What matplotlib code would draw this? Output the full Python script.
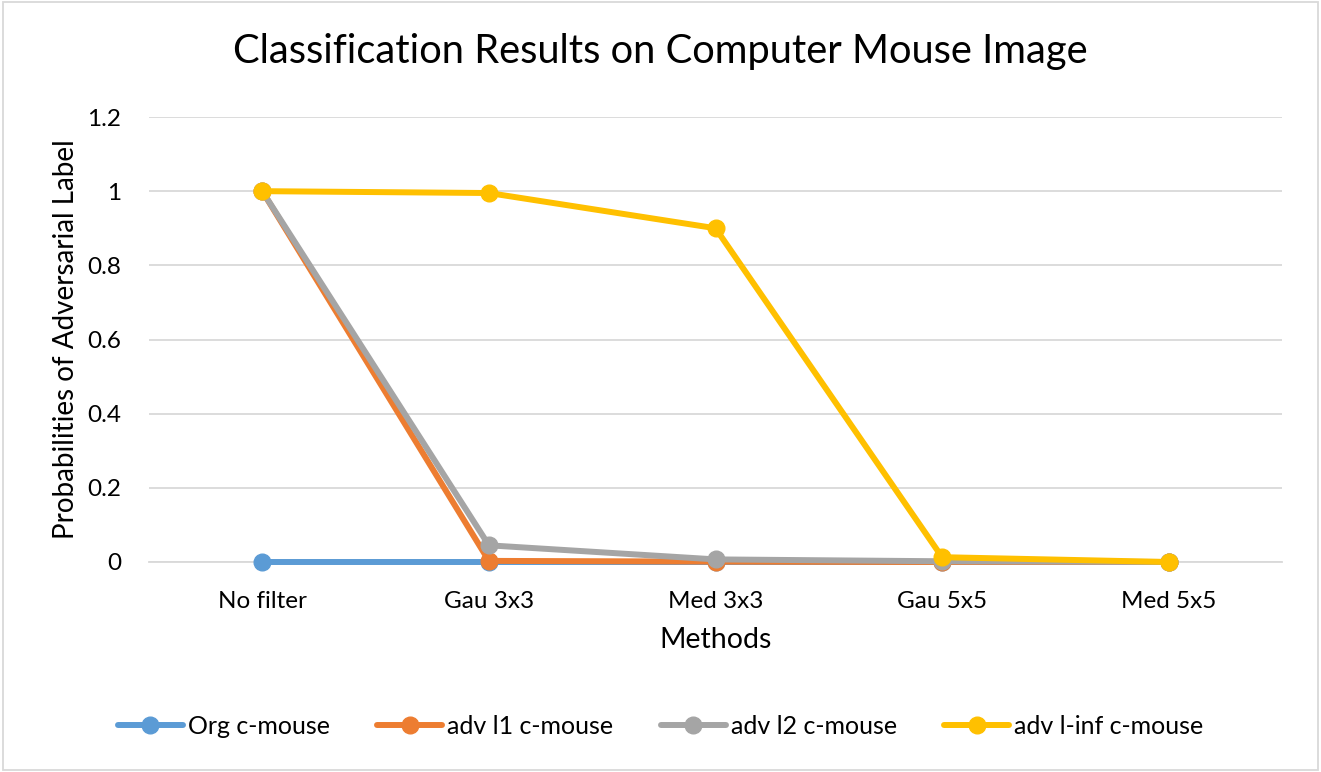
import matplotlib
matplotlib.use("Agg")
import matplotlib.pyplot as plt
import numpy as np

plt.rcParams['font.family'] = ['Lato', 'DejaVu Sans']

methods = ["No filter", "Gau 3x3", "Med 3x3", "Gau 5x5", "Med 5x5"]
org = [0, 0, 0, 0, 0]
adv_l1 = [1.0, 0.003, 0.001, 0.0, 0.0]
adv_l2 = [1.0, 0.045, 0.007, 0.002, 0.0]
adv_linf = [1.0, 0.995, 0.9, 0.013, 0.0]

series = [
    ("Org c-mouse", org, "#5B9BD5"),
    ("adv l1 c-mouse", adv_l1, "#ED7D31"),
    ("adv l2 c-mouse", adv_l2, "#A5A5A5"),
    ("adv l-inf c-mouse", adv_linf, "#FFC000"),
]

fig = plt.figure(figsize=(13.21, 7.72), dpi=100)
ax = fig.add_axes([149 / 1321, 1 - 562 / 772, (1282 - 149) / 1321, (562 - 117) / 772])

x = np.arange(len(methods))
for name, vals, col in series:
    ax.plot(x, vals, color=col, lw=4.3, marker='o', ms=12, label=name,
            solid_capstyle='round', clip_on=False, zorder=3)

ax.set_xlim(-0.5, len(methods) - 0.5)
ax.set_ylim(0, 1.2)
ax.set_yticks([0, 0.2, 0.4, 0.6, 0.8, 1, 1.2])
ax.set_yticklabels(["0", "0.2", "0.4", "0.6", "0.8", "1", "1.2"])
ax.set_xticks(x)
ax.set_xticklabels(methods)
ax.tick_params(axis='both', length=0, labelsize=17.5, colors='#000000')
ax.tick_params(axis='x', pad=21)
ax.tick_params(axis='y', pad=20)
ax.grid(axis='y', color='#D9D9D9', lw=1.3)
ax.set_axisbelow(True)
for s in ['top', 'right', 'left']:
    ax.spines[s].set_visible(False)
ax.spines['bottom'].set_color('#D9D9D9')
ax.spines['bottom'].set_linewidth(1.3)

ax.set_xlabel("Methods", fontsize=20.5, labelpad=11)
ax.set_ylabel("Probabilities of Adversarial Label", fontsize=20, labelpad=6)
fig.text(0.5, 1 - 52 / 772, "Classification Results on Computer Mouse Image",
         ha='center', va='center', fontsize=28.7)

fig.legend(loc='center', bbox_to_anchor=(0.5, 1 - 726 / 772), ncol=4, frameon=False,
           fontsize=18, handlelength=2.6, handletextpad=0.2, columnspacing=1.9)

border = plt.Rectangle((0.002, 0.003), 0.996, 0.994, transform=fig.transFigure,
                       fill=False, edgecolor='#D9D9D9', lw=1.3)
fig.patches.append(border)

fig.savefig("out.png", dpi=100)
